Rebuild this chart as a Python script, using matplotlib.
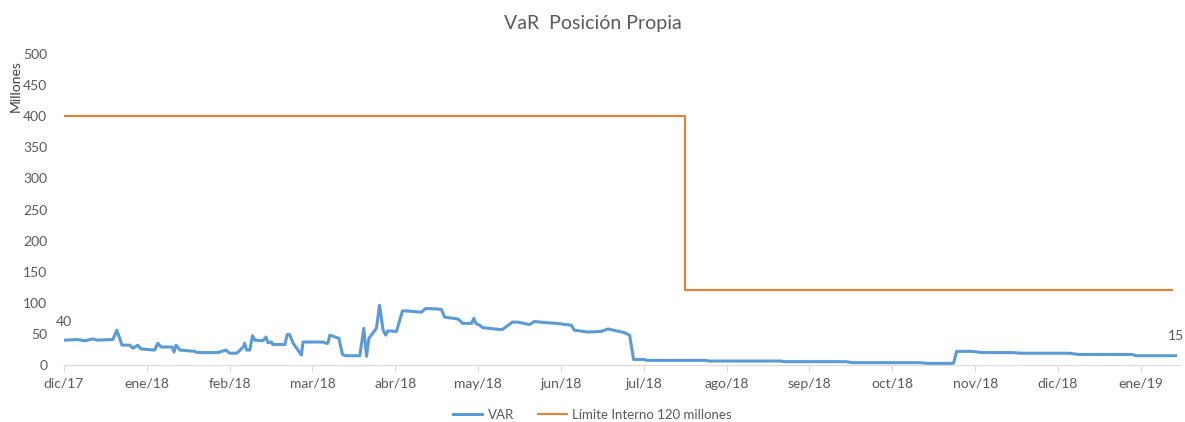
import matplotlib
matplotlib.use("Agg")
import matplotlib.pyplot as plt

# x = observation number (about 21 per month), values in millions
var_idx = [0, 3.5, 5.3, 7.3, 8.4, 12.4, 13.4, 14.7, 16.7, 17.5, 18.7, 19.5, 23, 23.8, 24.6,
           27.4, 27.9, 28.4, 29.4, 33.2, 33.7, 39, 41, 42, 43.8, 45.6, 45.8, 46.3, 47.1,
           47.8, 48.4, 50.4, 51.2, 51.7, 52.6, 52.9, 56, 56.6, 57.2, 58.1, 60.2, 60.6,
           65.7, 66.4, 66.9, 67.4, 69.7, 70.6, 71.4, 75, 76, 76.7, 77.3, 79.2, 80, 80.9,
           81.6, 82.1, 84.3, 85.8, 86.8, 90.6, 91.7, 94.8, 95.7, 96.5, 99.9, 101.1, 103.3,
           103.9, 104.4, 105.4, 106.2, 109.2, 111.1, 113.7, 115.1, 118, 119.3, 122.3, 124.8,
           128.6, 129.4, 132.8, 136.2, 137.9, 142.1, 143.4, 144.4, 147.2, 147.6, 162.8,
           163.4, 181.8, 182.6, 198.2, 199.9, 216.8, 218.9, 225.5, 226.3, 229.9, 232.9,
           240.4, 242.6, 254.8, 257.3, 270.8, 271.7, 281.8]
var_vals = [40, 41, 39, 42, 40, 41, 56, 32, 32, 27, 32, 26, 24, 35, 29,
            29, 21, 32, 24, 22, 20, 20, 24, 19, 19, 30, 35, 24, 24,
            47, 40, 39, 45, 36, 37, 33, 33, 49, 49, 35, 16, 37,
            37, 35, 35, 48, 43, 17, 15, 15, 59, 14, 43, 59, 96, 56,
            48, 55, 54, 87, 87, 85, 91, 90, 89, 77, 74, 67, 67,
            75, 67, 64, 60, 58, 57, 69, 69, 65, 70, 68, 67,
            64, 56, 53, 54, 58, 52, 48, 9, 9, 7.5, 7.5,
            6.4, 6.4, 5.4, 5.4, 3.8, 3.8, 2.7, 2.7, 22, 22, 20,
            20, 19, 19, 17, 17, 15, 15]

limit_idx = [0, 157.5, 281]
limit_vals = [400, 120, 120]

month_labels = ["dic/17", "ene/18", "feb/18", "mar/18", "abr/18", "may/18", "jun/18",
                "jul/18", "ago/18", "sep/18", "oct/18", "nov/18", "dic/18", "ene/19"]
month_idx = [21 * i for i in range(len(month_labels))]

plt.rcParams['font.family'] = ['Lato', 'DejaVu Sans']
gray = "#595959"

fig = plt.figure(figsize=(11.85, 4.22), dpi=100)
ax = fig.add_axes([0.054, 0.135, 0.942, 0.737])

ax.plot(var_idx, var_vals, color="#5B9BD5", lw=2.2, label="VAR")
ax.plot(limit_idx, limit_vals, color="#ED7D31", lw=1.5, drawstyle="steps-post",
        label="Límite Interno 120 millones")

# data labels on first and last VAR point
ax.annotate(f"{var_vals[0]:.0f}", (var_idx[0], var_vals[0]), xytext=(0, 9),
            textcoords="offset points", ha="center", va="bottom", color=gray, fontsize=10)
ax.annotate(f"{var_vals[-1]:.0f}", (var_idx[-1], var_vals[-1]), xytext=(0, 10),
            textcoords="offset points", ha="center", va="bottom", color=gray, fontsize=10)

ax.set_xlim(0, 283)
ax.set_ylim(0, 500)
ax.set_yticks(range(0, 501, 50))
ax.set_xticks(month_idx)
ax.set_xticklabels(month_labels)

for s in ["top", "right", "left"]:
    ax.spines[s].set_visible(False)
ax.spines["bottom"].set_color("#d9d9d9")
ax.tick_params(axis="x", colors="#d9d9d9", direction="out", length=5, labelcolor=gray,
               labelsize=10, pad=4)
ax.tick_params(axis="y", length=0, labelcolor=gray, labelsize=10, pad=12)

fig.text(0.5, 0.945, "VaR  Posición Propia", ha="center", va="center", fontsize=14,
         color=gray)
fig.text(0.013, 0.795, "Millones", rotation=90, ha="center", va="center", fontsize=10,
         color="#404040")

fig.legend(loc="lower center", bbox_to_anchor=(0.5, -0.025), ncol=2, frameon=False,
           fontsize=9.5, handlelength=2.2, handletextpad=0.4, columnspacing=1.8,
           labelcolor=gray)

fig.savefig("out.png", dpi=100)
